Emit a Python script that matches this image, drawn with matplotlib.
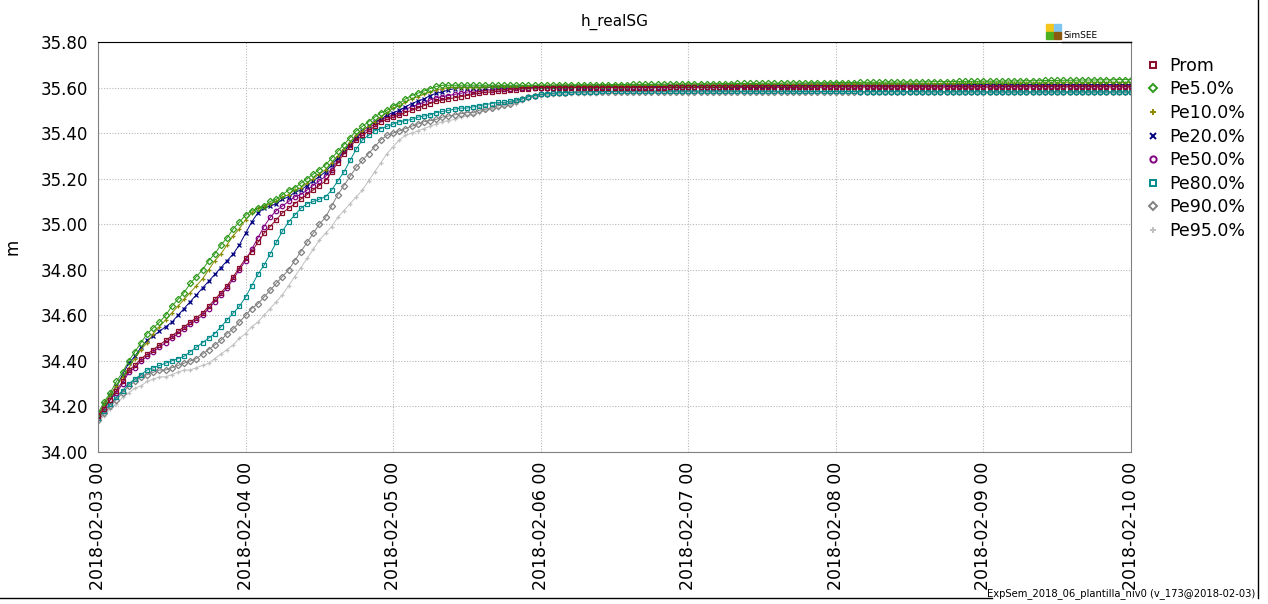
import matplotlib
matplotlib.use("Agg")
import matplotlib.pyplot as plt
import matplotlib.dates as mdates
import pandas as pd
from matplotlib.patches import Rectangle
from matplotlib.lines import Line2D


def vals(s):
  return [float(v) for v in s.split()]


# hourly values, 2018-02-03 00 .. 2018-02-10 00 (169 points), metres
prom = vals("""
34.16 34.19 34.23 34.27 34.31 34.36 34.38 34.41 34.43 34.45 34.47 34.49 34.51 34.53 34.55 34.57 34.59 34.61 34.64 34.67 34.70 34.73 34.77 34.81
34.85 34.88 34.92 34.96 34.99 35.02 35.05 35.07 35.09 35.11 35.13 35.15 35.17 35.19 35.23 35.27 35.31 35.34 35.37 35.39 35.41 35.43 35.45 35.46
35.47 35.48 35.49 35.50 35.51 35.52 35.53 35.54 35.545 35.55 35.555 35.56 35.565 35.57 35.575 35.58 35.58 35.585 35.585 35.59 35.59 35.595 35.595 35.60
35.60 35.60 35.60 35.60 35.60 35.60 35.60 35.60 35.60 35.60 35.60 35.60 35.60 35.60 35.60 35.60 35.60 35.60 35.60 35.60 35.60 35.601 35.601 35.601
35.601 35.601 35.601 35.601 35.601 35.601 35.601 35.601 35.601 35.601 35.601 35.601 35.601 35.601 35.601 35.601 35.601 35.601 35.601 35.601 35.601 35.601 35.602 35.602
35.602 35.602 35.602 35.602 35.602 35.602 35.602 35.602 35.602 35.602 35.602 35.602 35.602 35.602 35.602 35.602 35.602 35.602 35.602 35.602 35.602 35.602 35.602 35.602
35.602 35.602 35.602 35.602 35.603 35.603 35.603 35.603 35.603 35.603 35.603 35.603 35.603 35.603 35.603 35.603 35.603 35.603 35.603 35.603 35.603 35.603 35.603 35.603
35.603
""")
pe5 = vals("""
34.17 34.22 34.26 34.31 34.35 34.40 34.44 34.48 34.52 34.545 34.57 34.60 34.64 34.67 34.70 34.74 34.77 34.80 34.84 34.87 34.91 34.94 34.98 35.01
35.04 35.06 35.07 35.08 35.10 35.11 35.13 35.15 35.16 35.18 35.20 35.22 35.24 35.26 35.29 35.32 35.35 35.38 35.41 35.43 35.45 35.47 35.49 35.50
35.52 35.53 35.55 35.565 35.575 35.585 35.595 35.605 35.61 35.61 35.61 35.61 35.61 35.61 35.61 35.61 35.61 35.61 35.61 35.61 35.61 35.61 35.61 35.61
35.61 35.610 35.610 35.611 35.611 35.611 35.612 35.612 35.612 35.612 35.613 35.613 35.613 35.613 35.613 35.614 35.614 35.614 35.614 35.615 35.615 35.615 35.615 35.615
35.616 35.616 35.616 35.616 35.617 35.617 35.617 35.617 35.618 35.618 35.618 35.618 35.619 35.619 35.619 35.619 35.620 35.620 35.620 35.620 35.621 35.621 35.621 35.621
35.622 35.622 35.622 35.622 35.623 35.623 35.623 35.623 35.624 35.624 35.624 35.624 35.625 35.625 35.625 35.625 35.626 35.626 35.626 35.626 35.627 35.627 35.627 35.627
35.628 35.628 35.628 35.628 35.629 35.629 35.629 35.630 35.630 35.630 35.631 35.631 35.631 35.632 35.632 35.632 35.633 35.633 35.633 35.634 35.634 35.634 35.635 35.635
35.635
""")
pe10 = vals("""
34.16 34.21 34.25 34.29 34.33 34.37 34.41 34.45 34.48 34.52 34.55 34.58 34.61 34.64 34.67 34.70 34.73 34.76 34.80 34.84 34.87 34.91 34.95 34.98
35.02 35.05 35.07 35.08 35.09 35.10 35.12 35.13 35.15 35.16 35.18 35.20 35.22 35.24 35.27 35.30 35.33 35.36 35.39 35.41 35.43 35.45 35.47 35.49
35.51 35.52 35.535 35.55 35.56 35.57 35.58 35.59 35.595 35.60 35.60 35.60 35.60 35.60 35.60 35.602 35.602 35.602 35.603 35.603 35.603 35.604 35.604 35.604
35.605 35.605 35.605 35.606 35.606 35.606 35.606 35.607 35.607 35.607 35.607 35.607 35.608 35.608 35.608 35.608 35.608 35.609 35.609 35.609 35.609 35.609 35.610 35.610
35.610 35.610 35.610 35.610 35.611 35.611 35.611 35.611 35.611 35.612 35.612 35.612 35.612 35.612 35.612 35.613 35.613 35.613 35.613 35.613 35.614 35.614 35.614 35.614
35.614 35.615 35.615 35.615 35.615 35.615 35.615 35.616 35.616 35.616 35.616 35.616 35.617 35.617 35.617 35.617 35.617 35.617 35.618 35.618 35.618 35.618 35.618 35.618
35.619 35.619 35.619 35.619 35.619 35.619 35.620 35.620 35.620 35.620 35.620 35.620 35.621 35.621 35.621 35.621 35.621 35.621 35.622 35.622 35.622 35.622 35.622 35.622
35.622
""")
pe20 = vals("""
34.16 34.21 34.25 34.29 34.34 34.39 34.42 34.46 34.49 34.51 34.53 34.55 34.57 34.60 34.63 34.66 34.69 34.72 34.75 34.78 34.81 34.84 34.87 34.91
34.96 35.01 35.05 35.07 35.08 35.09 35.11 35.12 35.14 35.15 35.17 35.19 35.21 35.23 35.26 35.29 35.32 35.35 35.38 35.41 35.43 35.45 35.46 35.48
35.49 35.50 35.515 35.53 35.54 35.55 35.565 35.575 35.58 35.59 35.595 35.60 35.60 35.60 35.60 35.60 35.601 35.601 35.601 35.602 35.602 35.602 35.602 35.603
35.603 35.603 35.603 35.603 35.604 35.604 35.604 35.604 35.604 35.605 35.605 35.605 35.605 35.605 35.605 35.606 35.606 35.606 35.606 35.606 35.606 35.607 35.607 35.607
35.607 35.607 35.607 35.607 35.608 35.608 35.608 35.608 35.608 35.608 35.608 35.609 35.609 35.609 35.609 35.609 35.609 35.609 35.610 35.610 35.610 35.610 35.610 35.610
35.610 35.610 35.611 35.611 35.611 35.611 35.611 35.611 35.611 35.611 35.611 35.612 35.612 35.612 35.612 35.612 35.612 35.612 35.612 35.612 35.612 35.612 35.613 35.613
35.613 35.613 35.613 35.613 35.613 35.613 35.613 35.613 35.613 35.613 35.613 35.613 35.613 35.613 35.613 35.613 35.613 35.613 35.613 35.613 35.613 35.613 35.613 35.613
35.613
""")
pe50 = vals("""
34.16 34.19 34.23 34.26 34.30 34.35 34.37 34.40 34.42 34.44 34.46 34.48 34.50 34.52 34.54 34.56 34.58 34.60 34.63 34.66 34.69 34.72 34.76 34.80
34.84 34.89 34.94 34.99 35.03 35.06 35.08 35.10 35.12 35.13 35.15 35.17 35.19 35.21 35.24 35.28 35.32 35.35 35.38 35.40 35.42 35.44 35.46 35.47
35.48 35.49 35.505 35.515 35.525 35.535 35.545 35.555 35.56 35.565 35.57 35.575 35.58 35.585 35.585 35.59 35.59 35.595 35.595 35.595 35.60 35.60 35.60 35.60
35.60 35.60 35.60 35.601 35.601 35.601 35.601 35.601 35.601 35.602 35.602 35.602 35.602 35.602 35.602 35.603 35.603 35.603 35.603 35.603 35.603 35.603 35.604 35.604
35.604 35.604 35.604 35.604 35.604 35.604 35.605 35.605 35.605 35.605 35.605 35.605 35.605 35.605 35.605 35.606 35.606 35.606 35.606 35.606 35.606 35.606 35.606 35.606
35.606 35.606 35.606 35.607 35.607 35.607 35.607 35.607 35.607 35.607 35.607 35.607 35.607 35.607 35.607 35.607 35.607 35.607 35.607 35.607 35.607 35.607 35.607 35.607
35.607 35.607 35.607 35.607 35.607 35.608 35.608 35.608 35.608 35.608 35.608 35.608 35.608 35.608 35.608 35.608 35.608 35.608 35.608 35.608 35.608 35.608 35.608 35.608
35.608
""")
pe80 = vals("""
34.15 34.18 34.21 34.24 34.27 34.30 34.32 34.34 34.36 34.37 34.38 34.39 34.40 34.41 34.42 34.44 34.46 34.48 34.50 34.52 34.55 34.58 34.61 34.64
34.68 34.73 34.78 34.82 34.87 34.92 34.97 35.01 35.04 35.07 35.09 35.10 35.11 35.12 35.15 35.19 35.23 35.28 35.33 35.37 35.39 35.41 35.42 35.43
35.44 35.45 35.455 35.46 35.47 35.475 35.48 35.49 35.495 35.50 35.505 35.51 35.51 35.515 35.52 35.525 35.53 35.535 35.535 35.54 35.545 35.55 35.56 35.565
35.57 35.573 35.575 35.577 35.578 35.579 35.580 35.581 35.582 35.582 35.583 35.583 35.584 35.584 35.584 35.585 35.585 35.585 35.585 35.585 35.585 35.585 35.585 35.585
35.585 35.585 35.585 35.585 35.585 35.585 35.585 35.585 35.584 35.584 35.584 35.584 35.584 35.584 35.584 35.584 35.584 35.584 35.583 35.583 35.583 35.583 35.583 35.583
35.583 35.583 35.583 35.583 35.582 35.582 35.582 35.582 35.582 35.582 35.582 35.582 35.582 35.582 35.581 35.581 35.581 35.581 35.581 35.581 35.581 35.581 35.581 35.581
35.580 35.580 35.580 35.580 35.580 35.580 35.580 35.580 35.580 35.580 35.580 35.580 35.580 35.580 35.580 35.580 35.580 35.580 35.580 35.580 35.580 35.580 35.580 35.580
35.580
""")
pe90 = vals("""
34.14 34.17 34.20 34.23 34.26 34.29 34.31 34.33 34.34 34.35 34.36 34.36 34.37 34.38 34.39 34.40 34.41 34.43 34.45 34.47 34.49 34.52 34.54 34.57
34.60 34.63 34.65 34.68 34.71 34.74 34.77 34.80 34.84 34.88 34.92 34.96 35.00 35.03 35.08 35.13 35.17 35.21 35.25 35.28 35.31 35.34 35.37 35.39
35.40 35.41 35.42 35.43 35.44 35.45 35.455 35.46 35.47 35.475 35.48 35.485 35.49 35.49 35.50 35.505 35.51 35.52 35.525 35.53 35.54 35.55 35.56 35.565
35.57 35.573 35.575 35.577 35.578 35.579 35.580 35.580 35.581 35.581 35.581 35.582 35.582 35.582 35.582 35.582 35.582 35.582 35.582 35.582 35.582 35.582 35.582 35.582
35.582 35.582 35.582 35.582 35.582 35.582 35.582 35.582 35.582 35.582 35.582 35.582 35.582 35.582 35.582 35.582 35.582 35.582 35.582 35.582 35.582 35.582 35.582 35.582
35.582 35.582 35.582 35.582 35.582 35.582 35.582 35.582 35.582 35.582 35.582 35.582 35.582 35.582 35.582 35.582 35.582 35.582 35.582 35.582 35.582 35.582 35.582 35.582
35.582 35.582 35.582 35.582 35.582 35.582 35.582 35.582 35.582 35.582 35.582 35.582 35.582 35.582 35.582 35.582 35.582 35.582 35.582 35.582 35.582 35.582 35.582 35.582
35.582
""")
pe95 = vals("""
34.13 34.16 34.19 34.21 34.24 34.26 34.28 34.29 34.31 34.32 34.33 34.33 34.34 34.35 34.36 34.36 34.37 34.38 34.39 34.41 34.43 34.45 34.47 34.50
34.52 34.55 34.57 34.60 34.63 34.66 34.69 34.73 34.77 34.81 34.85 34.89 34.93 34.96 34.99 35.03 35.06 35.09 35.12 35.15 35.19 35.23 35.27 35.31
35.34 35.37 35.39 35.40 35.41 35.42 35.43 35.44 35.45 35.455 35.46 35.47 35.475 35.48 35.49 35.50 35.505 35.51 35.52 35.525 35.53 35.54 35.55 35.56
35.565 35.567 35.569 35.570 35.571 35.572 35.572 35.573 35.573 35.573 35.574 35.574 35.574 35.574 35.574 35.575 35.575 35.575 35.575 35.575 35.575 35.575 35.575 35.575
35.575 35.575 35.575 35.575 35.575 35.575 35.575 35.575 35.575 35.575 35.575 35.575 35.575 35.575 35.575 35.575 35.575 35.575 35.575 35.575 35.575 35.575 35.575 35.575
35.575 35.575 35.575 35.575 35.575 35.575 35.575 35.575 35.575 35.575 35.575 35.575 35.575 35.575 35.575 35.575 35.575 35.575 35.575 35.575 35.575 35.575 35.575 35.575
35.575 35.575 35.575 35.575 35.575 35.575 35.575 35.575 35.575 35.575 35.575 35.575 35.575 35.575 35.575 35.575 35.575 35.575 35.575 35.575 35.575 35.575 35.575 35.575
35.575
""")

labels = ["Prom", "Pe5.0%", "Pe10.0%", "Pe20.0%", "Pe50.0%", "Pe80.0%", "Pe90.0%", "Pe95.0%"]
series = [prom, pe5, pe10, pe20, pe50, pe80, pe90, pe95]
colors = ["#8b0a2a", "#2e9a1a", "#8a8a00", "#000080", "#800080", "#008b8b", "#808080", "#c0c0c0"]
markers = ["s", "D", "+", "x", "o", "s", "D", "+"]

ticks_y = [34.00, 34.20, 34.40, 34.60, 34.80, 35.00, 35.20, 35.40, 35.60, 35.80]
t0 = pd.Timestamp("2018-02-03 00:00")
t1 = pd.Timestamp("2018-02-10 00:00")
times = pd.date_range(t0, periods=len(prom), freq="h")

fig = plt.figure(figsize=(12.68, 6.04), dpi=100)
ax = fig.add_axes([98 / 1268, 1 - 452 / 604, (1131 - 98) / 1268, (452 - 42) / 604])

# draw from last to first, so Prom stays on top like in the picture
for i in range(len(series) - 1, -1, -1):
  ax.plot(times, series[i], color=colors[i], marker=markers[i], markersize=3.2,
          markerfacecolor="none", markeredgewidth=0.9, linewidth=0.7, label=labels[i])

ax.set_xlim(t0, t1)
ax.set_ylim(34.0, 35.8)
ax.set_yticks(ticks_y)
ax.set_yticklabels(["%.2f" % v for v in ticks_y], fontsize=12)
ax.xaxis.set_major_locator(mdates.DayLocator())
ax.xaxis.set_major_formatter(mdates.DateFormatter("%Y-%m-%d %H"))
plt.setp(ax.get_xticklabels(), rotation=90, fontsize=12.5)
ax.tick_params(length=0, pad=7)
ax.grid(True, color="#b8b8b8", linestyle=(0, (1, 1.5)), linewidth=0.8)

for side in ["left", "right", "bottom"]:
  ax.spines[side].set_color("#808080")
ax.spines["top"].set_color("black")

ax.set_title("h_realSG", fontsize=11, pad=12)
ax.set_ylabel("m", fontsize=12, labelpad=14)

handles = [Line2D([], [], color=colors[i], marker=markers[i], linestyle="none",
                  markersize=4.5, markerfacecolor="none", markeredgewidth=1.4)
           for i in range(len(series))]
fig.legend(handles, labels, loc="upper left", bbox_to_anchor=(1140 / 1268, 1 - 50 / 604),
           frameon=False, fontsize=12.5, handlelength=0.7, handletextpad=0.6,
           labelspacing=0.32, borderaxespad=0)

# SimSEE logo
logo = [("#f5c518", 1046, 24), ("#7fc6f0", 1054, 24), ("#4caf20", 1046, 32), ("#8b5a10", 1054, 32)]
for c, px, py in logo:
  fig.patches.append(Rectangle((px / 1268, 1 - (py + 7) / 604), 7 / 1268, 7 / 604,
                               transform=fig.transFigure, color=c))
fig.text(1063 / 1268, 1 - 36 / 604, "SimSEE", fontsize=6.5, va="center", ha="left")
fig.add_artist(Line2D([1062 / 1268, 1131 / 1268], [1 - 42 / 604, 1 - 42 / 604],
                      transform=fig.transFigure, color="black", linewidth=1))

# frame bits and footer
fig.add_artist(Line2D([1258 / 1268, 1258 / 1268], [1 - 598 / 604, 1.0],
                      transform=fig.transFigure, color="black", linewidth=1))
fig.add_artist(Line2D([0, 992 / 1268], [1 - 598 / 604, 1 - 598 / 604],
                      transform=fig.transFigure, color="black", linewidth=1))
fig.text(1255 / 1268, 1 - 594 / 604, "ExpSem_2018_06_plantilla_niv0 (v_173@2018-02-03)",
         fontsize=7.2, ha="right", va="center")

fig.savefig("out.png", dpi=100)
